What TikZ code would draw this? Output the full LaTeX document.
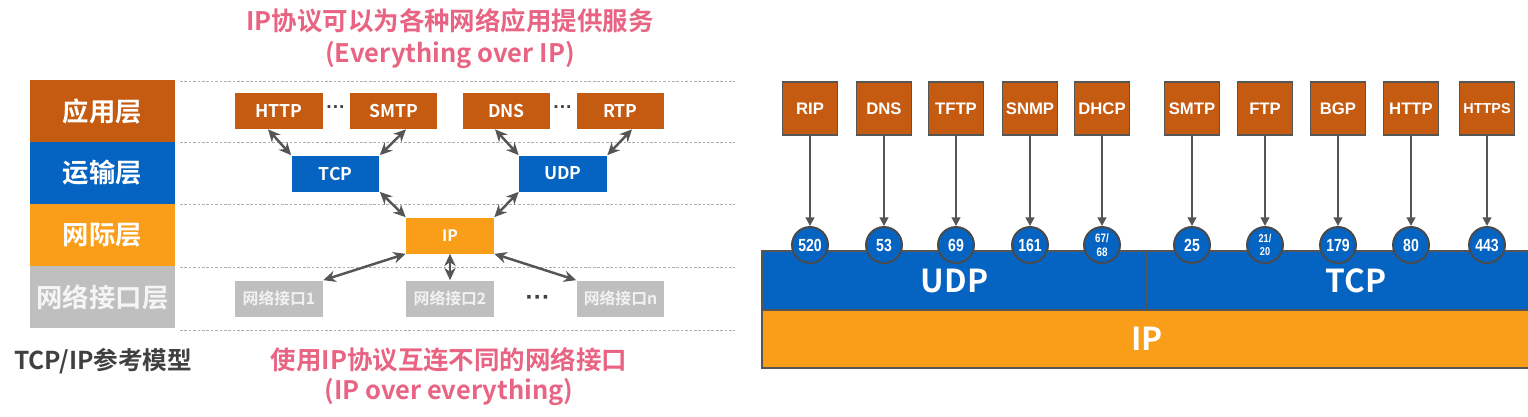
\documentclass[tikz,border=0pt]{standalone}
\usepackage{fontspec}
\newfontfamily\cjk{Noto Sans CJK SC}[BoldFont={* Bold}]
\newfontfamily\arial{Liberation Sans}
\definecolor{APPbrown}{HTML}{C55A11}
\definecolor{TRblue}{HTML}{0563C1}
\definecolor{IPorange}{HTML}{FA9E19}
\definecolor{LINKgray}{HTML}{BFBFBF}
\definecolor{NOTEpink}{HTML}{E86482}
\definecolor{ARRgray}{HTML}{555555}
\definecolor{RINGgray}{HTML}{4A4A4A}
\definecolor{GUIDEgray}{HTML}{B0B0B0}
\definecolor{TXTdark}{HTML}{404040}
\usetikzlibrary{arrows.meta, positioning}

\begin{document}
\begin{tikzpicture}[x=0.02cm, y=-0.02cm,
   layer/.style={minimum width=2.9cm, minimum height=1.24cm, inner sep=0pt,
      text=white, font=\cjk\bfseries\fontsize{15}{15}\selectfont},
   proto/.style={minimum width=1.76cm, minimum height=0.72cm, inner sep=0pt,
      text=white, font=\cjk\bfseries\fontsize{10}{10}\selectfont},
   iface/.style={proto, fill=LINKgray, text=white!95!black,
      font=\cjk\bfseries\fontsize{9}{9}\selectfont},
   note/.style={text=NOTEpink, font=\cjk\bfseries\fontsize{14.5}{15}\selectfont},
   dots/.style={text=TXTdark, font=\arial\bfseries\fontsize{11}{11}\selectfont},
   twoway/.style={{Stealth[length=7pt,width=6.5pt]}-{Stealth[length=7pt,width=6.5pt]},
      line width=1.4pt, ARRgray},
   app/.style={draw=ARRgray, line width=0.6pt, fill=APPbrown, minimum width=1.1cm,
      minimum height=1.06cm, inner sep=0pt, text=white},
   port/.style={circle, draw=RINGgray, line width=1.1pt, fill=TRblue, minimum size=0.72cm,
      inner sep=0pt, text=white},
   bar/.style={draw=ARRgray, line width=0.8pt, inner sep=0pt, text=white,
      font=\cjk\bfseries\fontsize{18}{18}\selectfont},
   down/.style={-{Triangle[length=5pt,width=5pt]}, line width=1.1pt, ARRgray}]
   \useasboundingbox (0,0) rectangle (1528,416);
   \clip (0,0) rectangle (1528,416);
   % Left: layer column
   \node[layer, fill=APPbrown] (lapp) at (102.5,111) {应用层};
   \node[layer, fill=TRblue] (ltrans) at (102.5,173) {运输层};
   \node[layer, fill=IPorange] (linet) at (102.5,235) {网际层};
   \node[layer, fill=LINKgray, text=white!96!black] (llink) at (102.5,297) {网络接口层};
   \node[text=TXTdark, font=\cjk\bfseries\fontsize{14}{14}\selectfont] (model) at (103,361) {TCP/IP参考模型};
   % Guide lines between layers
   \foreach \y in {81,142,204,267,330}
      \draw[GUIDEgray, dash pattern=on 1.5pt off 1pt, line width=0.5pt] (180,\y) -- (735,\y);
   % Notes
   \node[note] (top1) at (450,21) {IP协议可以为各种网络应用提供服务};
   \node[note] (top2) at (450,55) {(Everything over IP)};
   \node[note] (bot1) at (449,360) {使用IP协议互连不同的网络接口};
   \node[note] (bot2) at (449,392) {(IP over everything)};
   % Application protocols
   \node[proto, fill=APPbrown] (http) at (279,111) {HTTP};
   \node[proto, fill=APPbrown] (smtp) at (393.5,111) {SMTP};
   \node[proto, fill=APPbrown] (dns) at (506.5,111) {DNS};
   \node[proto, fill=APPbrown] (rtp) at (620.5,111) {RTP};
   \node[dots] (adots1) at (336,110) {···};
   \node[dots] (adots2) at (563,110) {···};
   % Transport and internet
   \node[proto, fill=TRblue] (tcp) at (335.5,173.5) {TCP};
   \node[proto, fill=TRblue] (udp) at (563,173.5) {UDP};
   \node[proto, fill=IPorange, font=\cjk\bfseries\fontsize{9}{9}\selectfont] (ip) at (450,235.5) {IP};
   % Network interfaces
   \node[iface] (if1) at (279,298.5) {网络接口1};
   \node[iface] (if2) at (450,298.5) {网络接口2};
   \node[iface] (ifn) at (620.5,298.5) {网络接口n};
   \node[dots, font=\arial\bfseries\fontsize{14}{14}\selectfont] (ldots) at (538,300) {···};
   % Two-way arrows
   \draw[twoway] ([xshift=-0.22cm]http.south) -- (tcp.north west);
   \draw[twoway] ([xshift=0.25cm]smtp.south) -- (tcp.north east);
   \draw[twoway] ([xshift=-0.23cm]dns.south) -- (udp.north west);
   \draw[twoway] ([xshift=0.23cm]rtp.south) -- (udp.north east);
   \draw[twoway] (tcp.south east) -- (ip.north west);
   \draw[twoway] (udp.south west) -- (ip.north east);
   \draw[twoway] (ip.south west) -- (if1.north east);
   \draw[twoway] (ip.south) -- (if2.north);
   \draw[twoway] (ip.south east) -- (ifn.north west);
   % Right: transport and IP bars
   \node[bar, fill=TRblue, minimum width=7.7cm, minimum height=1.18cm] (udpbar) at (954.5,280.5) {UDP};
   \node[bar, fill=TRblue, minimum width=8.36cm, minimum height=1.18cm] (tcpbar) at (1356,280.5) {TCP};
   \node[bar, fill=IPorange, minimum width=15.4cm, minimum height=1.16cm] (ipbar) at (1147,339) {IP};
   % Applications and their ports
   \foreach \x/\name/\afs/\port/\pfs in {810/RIP/9.5/520/10, 884/DNS/9.5/53/10, 956/TFTP/9.5/69/10,
         1030/SNMP/9.5/161/10, 1102/DHCP/9.5/{\shortstack{67/\\68}}/7, 1192/SMTP/9.5/25/10,
         1265/FTP/9.5/{\shortstack{21/\\20}}/6.5, 1338/BGP/9.5/179/10, 1411/HTTP/9.5/80/10,
         1487/HTTPS/8.2/443/10} {
      \node[app, font=\arial\bfseries\fontsize{\afs}{\afs}\selectfont] (a\x) at (\x,108.5) {\name};
      \node[port, font=\arial\bfseries\fontsize{\pfs}{\pfs}\selectfont] (p\x) at (\x,245)
         {\scalebox{0.8}[1]{\port}};
      \draw[down] (a\x) -- (p\x);
   }
\end{tikzpicture}
\end{document}
